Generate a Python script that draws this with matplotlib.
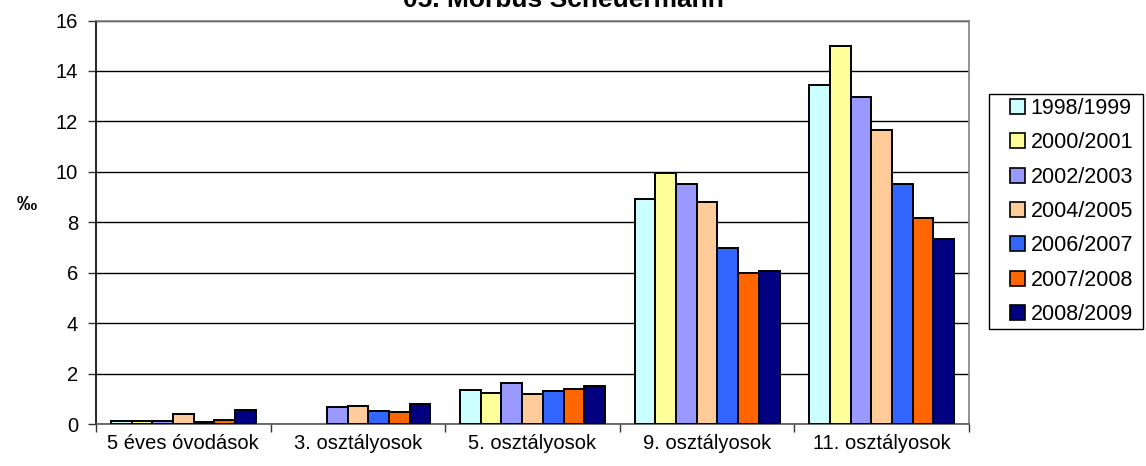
import matplotlib
matplotlib.use("Agg")
import matplotlib.pyplot as plt
import numpy as np
from matplotlib.patches import Patch, Rectangle

plt.rcParams['font.family'] = ['Liberation Sans', 'DejaVu Sans']

categories = ["5 éves óvodások", "3. osztályosok", "5. osztályosok", "9. osztályosok", "11. osztályosok"]
series_names = ["1998/1999", "2000/2001", "2002/2003", "2004/2005", "2006/2007", "2007/2008", "2008/2009"]
v_1998 = [0.10, np.nan, 1.35, 8.91, 13.43]
v_2000 = [0.13, np.nan, 1.23, 9.94, 14.97]
v_2002 = [0.13, 0.69, 1.61, 9.53, 12.96]
v_2004 = [0.40, 0.70, 1.18, 8.82, 11.67]
v_2006 = [0.08, 0.50, 1.31, 6.96, 9.52]
v_2007 = [0.17, 0.49, 1.39, 5.99, 8.16]
v_2008 = [0.54, 0.80, 1.49, 6.05, 7.34]
series_values = [v_1998, v_2000, v_2002, v_2004, v_2006, v_2007, v_2008]
colors = ["#CCFFFF", "#FFFF99", "#9999FF", "#FFCC99", "#3366FF", "#FF6600", "#000080"]
yticks = [0, 2, 4, 6, 8, 10, 12, 14, 16]

W, H = 1146, 466
fig = plt.figure(figsize=(W/100, H/100), dpi=100)
ax = fig.add_axes([96/W, 1-424/H, (969-96)/W, (424-20.5)/H])

n = len(series_names)
group_w = 0.83
bw = group_w / n
x = np.arange(len(categories))
for i, (vals, c) in enumerate(zip(series_values, colors)):
    ax.bar(x - group_w/2 + bw*(i+0.5), vals, width=bw, color=c, edgecolor='black',
           linewidth=1.4, zorder=3)

ax.set_xlim(-0.5, len(categories)-0.5)
ax.set_ylim(0, 16)
ax.set_yticks(yticks)
ax.set_yticklabels([str(t) for t in yticks], fontsize=14.5)
ax.yaxis.grid(True, color='black', linewidth=1.0, zorder=0)
ax.set_axisbelow(True)

ax.set_xticks(x)
ax.set_xticklabels(categories, fontsize=14.5)
ax.tick_params(axis='x', length=0, pad=7.5)
ax.set_xticks(np.arange(len(categories)+1) - 0.5, minor=True)
ax.tick_params(axis='x', which='minor', length=6, width=1, color='#333333', direction='out')
ax.tick_params(axis='y', length=6, width=1, color='#333333', direction='out', pad=7)

for s in ['top', 'right']:
    ax.spines[s].set_color('#808080')
    ax.spines[s].set_linewidth(1.2)
ax.spines['left'].set_color('black')
ax.spines['left'].set_linewidth(1.2)
ax.spines['bottom'].set_color('#555555')
ax.spines['bottom'].set_linewidth(1.2)

fig.text(27/W, 1-205/H, "‰", fontsize=14.5, fontweight='bold', ha='center', va='center')

fig.text(563/W, 1-7/H, "05. Morbus Scheuermann", fontsize=19, fontweight='bold',
         ha='center', va='baseline')

# legend frame
fig.patches.append(Rectangle((989/W, 1-329/H), (1143-989)/W, (329-94)/H,
                             transform=fig.transFigure, facecolor='white',
                             edgecolor='black', linewidth=1.0, zorder=1))
handles = [Patch(facecolor=c, edgecolor='black', linewidth=1.2) for c in colors]
leg = fig.legend(handles, series_names, loc='center left',
                 bbox_to_anchor=(1010/W, 1-211.5/H), fontsize=15.5,
                 frameon=False,
                 handlelength=0.7, handleheight=0.7, handletextpad=0.25,
                 labelspacing=0.62, borderpad=0.0, borderaxespad=0)
leg.set_zorder(2)

fig.savefig("out.png", dpi=100)
